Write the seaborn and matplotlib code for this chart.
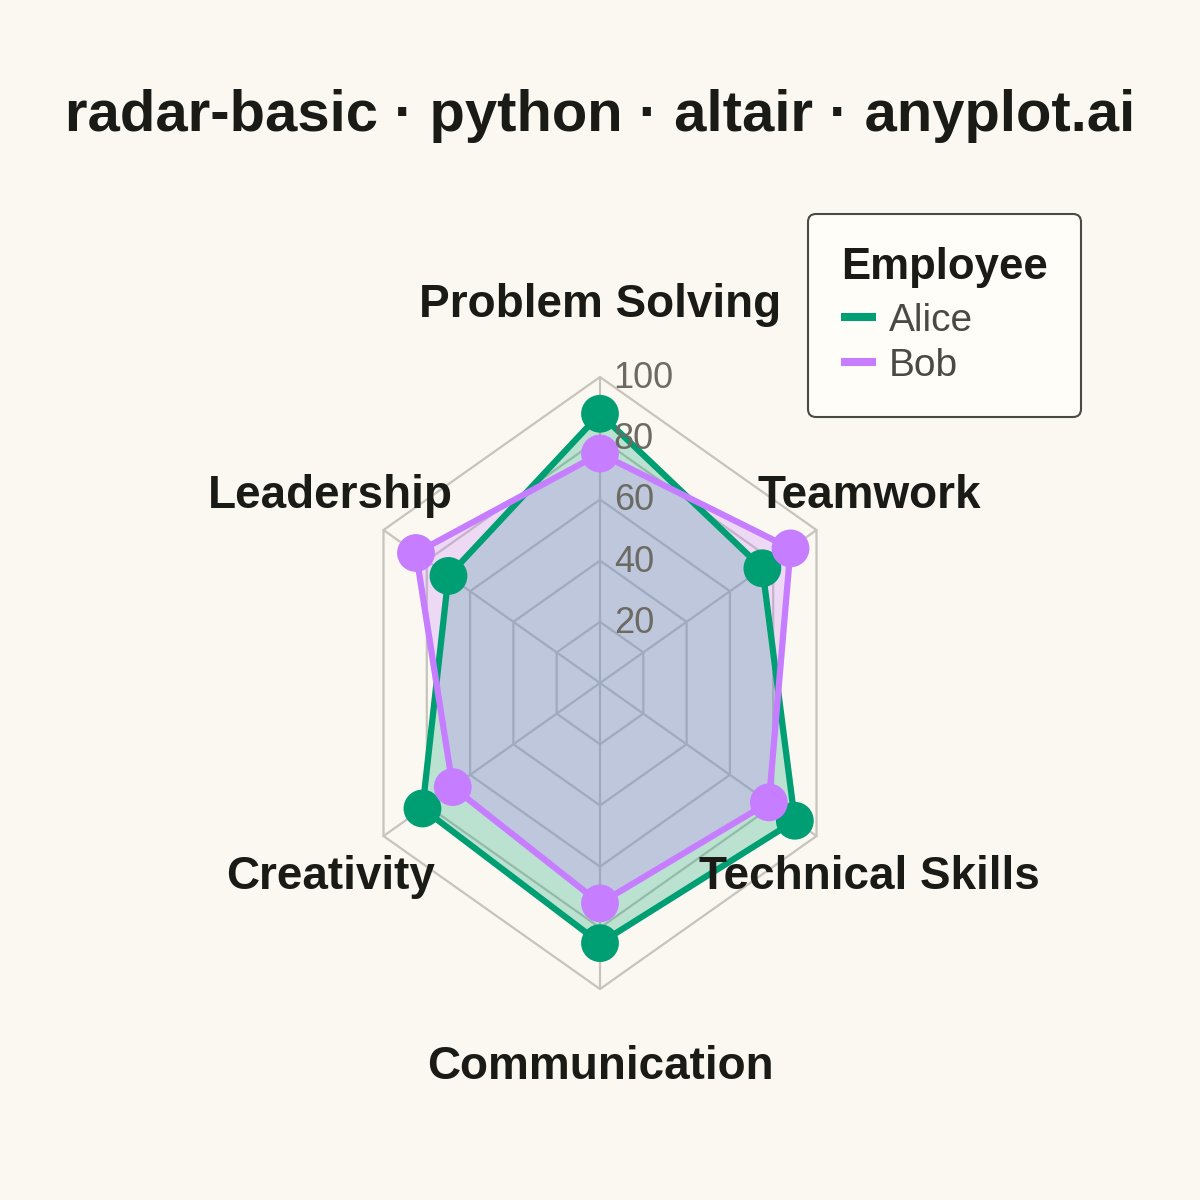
import numpy as np
import pandas as pd
import matplotlib
matplotlib.use('Agg')
import matplotlib.pyplot as plt
import seaborn as sns

# data
categories = ['Problem Solving', 'Teamwork', 'Technical Skills', 'Communication', 'Creativity', 'Leadership']
employees = ['Alice', 'Bob']
alice = [88, 75, 90, 85, 82, 70]
bob = [75, 88, 78, 72, 68, 85]
ticks = [20, 40, 60, 80, 100]

palette = {'Alice': '#009E73', 'Bob': '#C77DFF'}
bg = '#FAF8F1'
ink = '#1A1A17'
grid_col = '#C6C4BD'

sns.set_theme(style='white')
plt.rcParams['font.family'] = ['Liberation Sans', 'DejaVu Sans']

n = len(categories)
angles = np.arange(n) * 2 * np.pi / n

# long table, first point repeated to close the polygon
rows = []
for name, vals in zip(employees, [alice, bob]):
    for k, i in enumerate(list(range(n)) + [0]):
        rows.append({'Employee': name, 'Skill': categories[i], 'Score': vals[i],
                     'angle': angles[i], 'step': k})
df = pd.DataFrame(rows)
df['x'] = df['Score'] * np.sin(df['angle'])
df['y'] = df['Score'] * np.cos(df['angle'])

fig = plt.figure(figsize=(12, 12), dpi=100, facecolor=bg)
ax = fig.add_axes([0.1875, 0.0993, 0.625, 0.663])
ax.set_facecolor(bg)

# grid rings and spokes
ring_a = np.append(angles, angles[0])
for t in ticks:
    ax.plot(t * np.sin(ring_a), t * np.cos(ring_a), color=grid_col, lw=1.6, zorder=1)
for a in angles:
    ax.plot([0, 100 * np.sin(a)], [0, 100 * np.cos(a)], color=grid_col, lw=1.6, zorder=1)

# fills
for name in employees:
    sub = df[df['Employee'] == name]
    ax.fill(sub['x'], sub['y'], color=palette[name], alpha=0.25, lw=0, zorder=2)

# lines + points
sns.lineplot(data=df, x='x', y='y', hue='Employee', palette=palette, sort=False,
             estimator=None, units='Employee', lw=4.5, ax=ax, zorder=3)
sns.scatterplot(data=df[df['step'] < n], x='x', y='y', hue='Employee', palette=palette,
                s=740, linewidth=0, legend=False, ax=ax, zorder=4)
ax.set_xlim(-150, 150)
ax.set_ylim(-130, 130)
ax.axis('off')

# tick labels
for t in ticks:
    ax.text(5.5, t - 0.5, str(t), fontsize=26, color='#6B6A63', ha='left', va='center', zorder=5)

# category labels
for lab, a in zip(categories, angles):
    ax.text(124.5 * np.sin(a), 124.5 * np.cos(a) - 1, lab, fontsize=33, fontweight='bold',
            color=ink, ha='center', va='center', zorder=5)

fig.text(0.5, 1 - 116 / 1200, 'radar-basic · python · altair · anyplot.ai',
         fontsize=41.8, fontweight='bold', color=ink, ha='center', va='center')

handles, labels = ax.get_legend_handles_labels()
leg = ax.legend(handles, labels, title='Employee', loc='upper right',
                bbox_to_anchor=(1081 / 1200, 1 - 214 / 1200), bbox_transform=fig.transFigure,
                fontsize=28, title_fontproperties={'weight': 'bold', 'size': 31.5},
                alignment='left', frameon=True, fancybox=True, facecolor='#FFFDF7',
                edgecolor='#4A4A44', framealpha=1, handlelength=0.9, handletextpad=0.33,
                labelspacing=0.23, borderpad=0.85, borderaxespad=0)
leg._legend_box.sep += 4
leg.get_frame().set_linewidth(1.5)
for t in leg.get_texts():
    t.set_color('#4A4A44')
leg.get_title().set_color(ink)
for l in leg.get_lines():
    l.set_linewidth(5.8)
    l.set_solid_capstyle('butt')

fig.savefig('out.png', dpi=100, facecolor=bg)
